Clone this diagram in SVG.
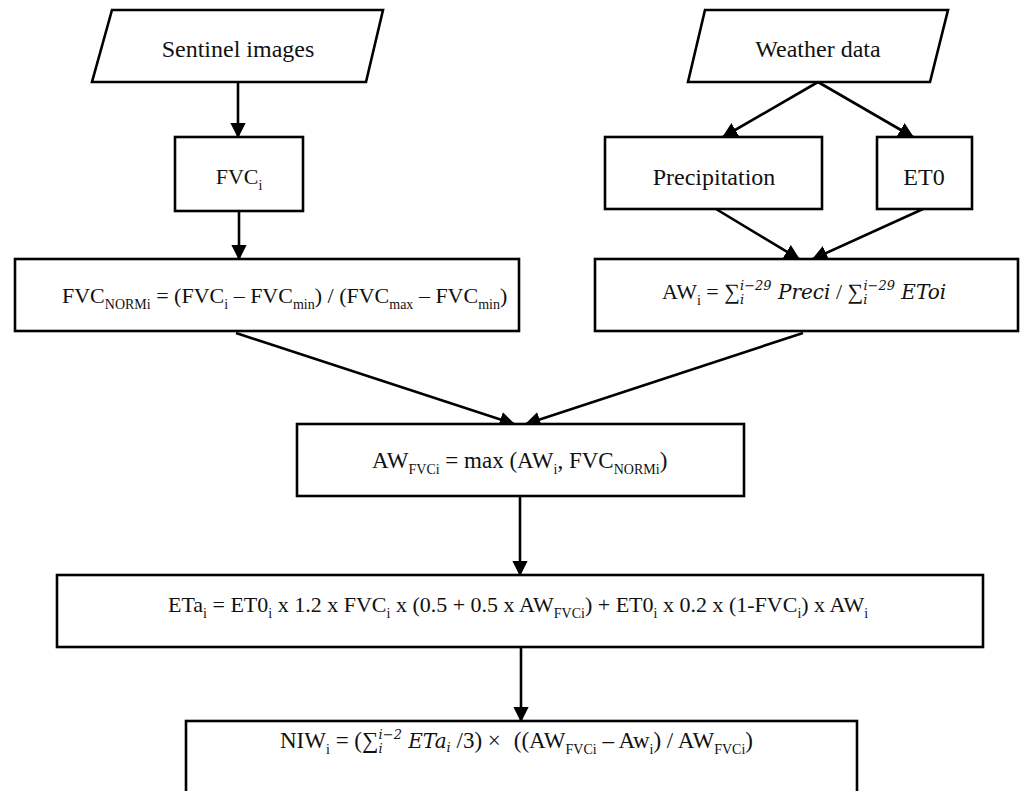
<svg xmlns="http://www.w3.org/2000/svg" width="1022" height="791" viewBox="0 0 1022 791">
<defs>
<marker id="ah" markerWidth="6" markerHeight="6" refX="5.5" refY="3" orient="auto" markerUnits="strokeWidth">
<path d="M0,0 L6,3 L0,6 Z" fill="#000"/>
</marker>
<style>
.box{fill:#fff;stroke:#000;stroke-width:2.6}
.t{font-family:"Liberation Serif","DejaVu Serif",serif;font-size:22px;fill:#111}
.l{font-size:24px}
.s{font-size:14px}
.m{font-family:"DejaVu Serif","Liberation Serif",serif;font-style:italic;font-size:20px}
.ms{font-family:"DejaVu Serif","Liberation Serif",serif;font-style:italic;font-size:13px}
.c{fill:none;stroke:#000;stroke-width:2.6;marker-end:url(#ah)}
</style>
</defs>
<rect width="1022" height="791" fill="#fff"/>
<g id="connectors">
<line class="c" x1="238" y1="82" x2="238" y2="137"/>
<line class="c" x1="239" y1="211" x2="239" y2="259"/>
<line class="c" x1="818" y1="82" x2="723" y2="137"/>
<line class="c" x1="818" y1="82" x2="913" y2="137"/>
<line class="c" x1="716" y1="209" x2="799" y2="259"/>
<line class="c" x1="923" y1="209" x2="813" y2="259"/>
<line class="c" x1="236" y1="333" x2="514" y2="424"/>
<line class="c" x1="803" y1="333" x2="526" y2="424"/>
<line class="c" x1="520" y1="496" x2="520" y2="575"/>
<line class="c" x1="521" y1="647" x2="521" y2="721"/>
</g>
<g id="sentinel">
<polygon class="box" points="112,10 383,10 366,82 92,82"/>
<text class="t l" x="238" y="57" text-anchor="middle">Sentinel images</text>
</g>
<g id="weather">
<polygon class="box" points="705,10 948,10 930,82 688,82"/>
<text class="t l" x="818" y="57" text-anchor="middle">Weather data</text>
</g>
<g id="fvci">
<rect class="box" x="175" y="137" width="128" height="74"/>
<text class="t" x="239" y="184" text-anchor="middle">FVC<tspan class="s" dy="6">i</tspan></text>
</g>
<g id="precipitation">
<rect class="box" x="605" y="137" width="217" height="72"/>
<text class="t l" x="714" y="185" text-anchor="middle">Precipitation</text>
</g>
<g id="et0">
<rect class="box" x="877" y="137" width="95" height="72"/>
<text class="t l" x="924" y="185" text-anchor="middle">ET0</text>
</g>
<g id="fvcnorm">
<rect class="box" x="15" y="259" width="504" height="72"/>
<text class="t" x="62" y="303">FVC<tspan class="s" dy="6">NORMi</tspan><tspan dy="-6"> = (FVC</tspan><tspan class="s" dy="6">i</tspan><tspan dy="-6"> – FVC</tspan><tspan class="s" dy="6">min</tspan><tspan dy="-6">) / (FVC</tspan><tspan class="s" dy="6">max</tspan><tspan dy="-6"> – FVC</tspan><tspan class="s" dy="6">min</tspan><tspan dy="-6">)</tspan></text>
</g>
<g id="awi">
<rect class="box" x="595" y="259" width="423" height="72"/>
<text class="t" x="662" y="299">AW<tspan class="s" dy="6">i</tspan><tspan dy="-6"> = ∑</tspan><tspan class="ms" dy="5">i</tspan><tspan class="ms" dx="-4" dy="-14">i−29</tspan><tspan class="m" dy="9"> Preci</tspan><tspan> / ∑</tspan><tspan class="ms" dy="5">i</tspan><tspan class="ms" dx="-4" dy="-14">i−29</tspan><tspan class="m" dy="9"> EToi</tspan></text>
</g>
<g id="awfvci">
<rect class="box" x="297" y="424" width="447" height="72"/>
<text class="t" x="372" y="468" style="font-size:23px">AW<tspan class="s" dy="6">FVCi</tspan><tspan dy="-6"> = max (AW</tspan><tspan class="s" dy="6">i</tspan><tspan dy="-6">, FVC</tspan><tspan class="s" dy="6">NORMi</tspan><tspan dy="-6">)</tspan></text>
</g>
<g id="eta">
<rect class="box" x="57" y="575" width="926" height="72"/>
<text class="t" x="168" y="612">ETa<tspan class="s" dy="6">i</tspan><tspan dy="-6"> = ET0</tspan><tspan class="s" dy="6">i</tspan><tspan dy="-6"> x 1.2 x FVC</tspan><tspan class="s" dy="6">i</tspan><tspan dy="-6"> x (0.5 + 0.5 x AW</tspan><tspan class="s" dy="6">FVCi</tspan><tspan dy="-6">) + ET0</tspan><tspan class="s" dy="6">i</tspan><tspan dy="-6"> x 0.2 x (1-FVC</tspan><tspan class="s" dy="6">i</tspan><tspan dy="-6">) x AW</tspan><tspan class="s" dy="6">i</tspan></text>
</g>
<g id="niw">
<rect class="box" x="186" y="721" width="671" height="80"/>
<text class="t" x="280" y="748" style="font-size:23px">NIW<tspan class="s" dy="6">i</tspan><tspan dy="-6"> = (∑</tspan><tspan class="ms" dy="5">i</tspan><tspan class="ms" dx="-4" dy="-14">i−2</tspan><tspan class="m" dy="9"> ETa</tspan><tspan class="ms" dy="4">i</tspan><tspan dy="-4"> /3) ×</tspan><tspan dx="13">((AW</tspan><tspan class="s" dy="6">FVCi</tspan><tspan dy="-6"> – Aw</tspan><tspan class="s" dy="6">i</tspan><tspan dy="-6">) / AW</tspan><tspan class="s" dy="6">FVCi</tspan><tspan dy="-6">)</tspan></text>
</g>
</svg>
